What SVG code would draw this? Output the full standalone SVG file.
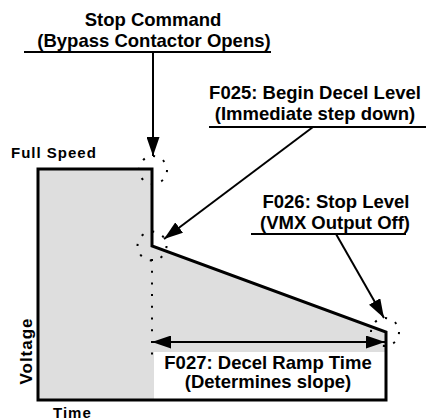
<svg xmlns="http://www.w3.org/2000/svg" width="426" height="420" viewBox="0 0 426 420">
<style>
text{font-family:"Liberation Sans",Arial,sans-serif;font-weight:bold;fill:#000}
.lbl{font-size:18.5px;text-anchor:middle}
.ax{font-size:15px;letter-spacing:1px}
.ln{stroke:#000;stroke-width:2;fill:none}
.dot{stroke:#000;stroke-width:2;fill:none;stroke-dasharray:2 8}
</style>
<defs>
<marker id="ah" viewBox="0 0 19 13" refX="19" refY="6.5" markerWidth="19" markerHeight="13" orient="auto-start-reverse" markerUnits="userSpaceOnUse">
<path d="M0,0 L19,6.5 L0,13 Z" fill="#000"/>
</marker>
</defs>
<g id="curve">
<path d="M38,169 H152 V246 L386,332 V400 H38 Z" fill="#dedede" stroke="none"/>
<rect x="154" y="352" width="232" height="48" fill="#fff"/>
<path d="M38,169 H152 V246 L386,332 V400 H38 Z" fill="none" stroke="#000" stroke-width="3" stroke-linejoin="miter"/>
</g>
<g id="markers">
<circle cx="153" cy="170" r="14" class="dot" pathLength="80"/>
<circle cx="152" cy="246" r="14.5" class="dot" pathLength="80"/>
<circle cx="385" cy="332" r="14" class="dot" pathLength="80"/>
<line x1="152" y1="259" x2="152" y2="356" stroke="#000" stroke-width="2" stroke-dasharray="2 9.7"/>
</g>
<g id="labels">
<text class="ax" x="11" y="158">Full Speed</text>
<text class="ax" x="53" y="418">Time</text>
<text class="ax" transform="translate(32,351) rotate(-90)" text-anchor="middle" style="font-size:17px;letter-spacing:1px">Voltage</text>
</g>
<g id="stop-command">
<text class="lbl" x="153" y="26">Stop Command</text>
<text class="lbl" x="154" y="47">(Bypass Contactor Opens)</text>
<line class="ln" x1="24" y1="52" x2="271" y2="52"/>
</g>
<g id="f025">
<text class="lbl" x="315" y="99">F025: Begin Decel Level</text>
<text class="lbl" x="315" y="120">(Immediate step down)</text>
<line class="ln" x1="209" y1="127" x2="426" y2="127"/>
</g>
<g id="f026">
<text class="lbl" x="336" y="208">F026: Stop Level</text>
<text class="lbl" x="335" y="229">(VMX Output Off)</text>
<line class="ln" x1="251" y1="234" x2="406" y2="234"/>
</g>
<g id="f027">
<text class="lbl" x="268" y="369">F027: Decel Ramp Time</text>
<text class="lbl" x="268" y="388">(Determines slope)</text>
</g>
<g id="connectors">
<line class="ln" x1="153" y1="52" x2="153" y2="156" marker-end="url(#ah)"/>
<line class="ln" x1="313" y1="127" x2="164" y2="239" marker-end="url(#ah)"/>
<line class="ln" x1="336" y1="234" x2="384" y2="318" marker-end="url(#ah)"/>
<line class="ln" x1="152" y1="342" x2="385" y2="342" marker-start="url(#ah)" marker-end="url(#ah)"/>
</g>
</svg>
